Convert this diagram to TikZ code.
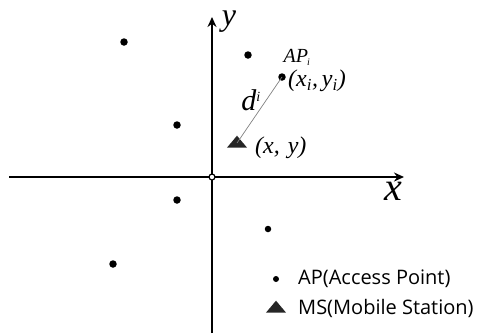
\documentclass[tikz,border=0pt]{standalone}
\usepackage{fontspec}
\setmainfont{Liberation Serif}
\newfontfamily\legfont{Open Sans}
\usetikzlibrary{arrows.meta,shapes.geometric}
\tikzset{
  axis/.style={line width=1.8pt,-{Stealth[length=10pt,width=9pt]}},
  apdot/.style={circle,fill=black,inner sep=0pt,minimum size=7.5pt},
  msmark/.style={isosceles triangle,isosceles triangle apex angle=80,shape border rotate=90,fill=black!85,inner sep=0pt,minimum height=12pt,minimum width=20pt},
  mathlbl/.style={font=\fontsize{24}{26}\selectfont\itshape,inner sep=0pt},
  leglbl/.style={font=\legfont\fontsize{20}{22}\selectfont,anchor=west,inner sep=0pt}
}
\begin{document}
\begin{tikzpicture}[x=1pt,y=-1pt]
\useasboundingbox (0,0) rectangle (480,333);
% axes
\coordinate (xs) at (9,177);
\coordinate (xe) at (404,177);
\coordinate (ys) at (212,333);
\coordinate (ye) at (212,17);
\draw[axis] (xs) -- (xe);
\draw[axis] (ys) -- (ye);
\node[circle,draw,line width=1.2pt,fill=white,inner sep=0pt,minimum size=6pt] (o) at (212,177) {};
\node[mathlbl,font=\fontsize{32}{34}\selectfont\itshape] (ylab) at (229,22) {y};
\node[mathlbl,font=\fontsize{40}{42}\selectfont\itshape] (xlab) at (393,191) {x};
% APs
\node[apdot] (a1) at (124,42) {};
\node[apdot] (a2) at (177,125) {};
\node[apdot] (a3) at (248,55) {};
\node[apdot] (ai) at (282,77) {};
\node[apdot] (a5) at (177,200) {};
\node[apdot,minimum size=6.5pt] (a6) at (268,229) {};
\node[apdot] (a7) at (113,264) {};
% MS
\node[msmark] (ms) at (237,143) {};
\draw[black!50,line width=0.7pt] (ai.center) -- (ms.center);
% labels
\node[font=\fontsize{20}{22}\selectfont\itshape,inner sep=0pt] (aplab) at (297,57) {AP\textsubscript{\kern-1pt\fontsize{10}{11}\selectfont i}};
\node[mathlbl,anchor=west] (xilab) at (288,81) {(x\textsubscript{i},\,y\textsubscript{i})};
\node[mathlbl,font=\fontsize{30}{32}\selectfont\itshape] (dlab) at (251,100) {d\textsuperscript{\fontsize{14}{15}\selectfont i}};
\node[mathlbl,anchor=west] (xylab) at (255,148) {(x,\,\,y)};
% legend
\node[apdot,minimum size=6pt] (lap) at (276,279) {};
\node[leglbl] (lapt) at (298,279) {AP(Access Point)};
\node[msmark] (lms) at (276,308) {};
\node[leglbl] (lmst) at (298,308) {MS(Mobile Station)};
\end{tikzpicture}
\end{document}
